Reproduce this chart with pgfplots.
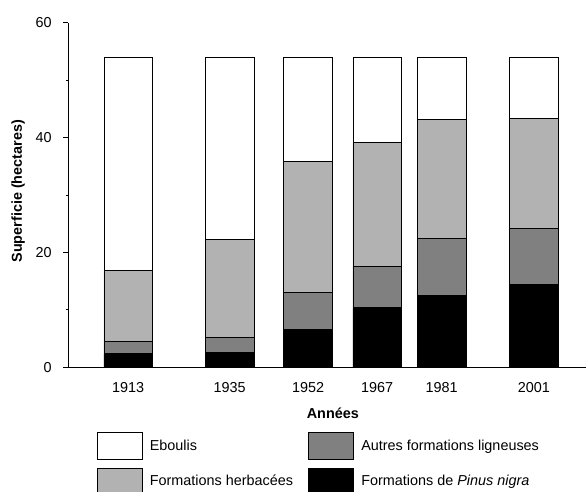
\documentclass[border=0pt]{standalone}
\usepackage{fontspec}
\setmainfont{Liberation Sans}
\usepackage{pgfplots}
\usepackage{pgfplotstable}
\pgfplotsset{compat=1.18}
\definecolor{herb}{gray}{0.70}
\definecolor{lign}{gray}{0.50}

\pgfplotstableread{
year black dark light white
1913 2.4 2.05 12.35 37.2
1935 2.6 2.55 17.15 31.7
1952 6.6 6.5 22.8 18.1
1967 10.4 7.2 21.5 14.9
1981 12.5 10.0 20.7 10.8
2001 14.5 9.7 19.2 10.6
}\data

\begin{document}
\begin{tikzpicture}[font=\fontsize{14.4}{17}\selectfont]
\begin{axis}[
  scale only axis, width=517.7pt, height=344.6pt,
  xmin=1900, xmax=2012.3, ymin=0, ymax=60,
  axis x line*=bottom, axis y line*=left,
  axis line style={black, line width=0.8pt},
  ybar stacked, bar width=48.5pt,
  xtick={1913,1935,1952,1967,1981,2001},
  xticklabels={1913,1935,1952,1967,1981,2001},
  xtick style={draw=none},
  ytick={0,20,40,60}, minor ytick={10,30,50},
  tick align=outside, major tick length=5pt, minor tick length=2.5pt,
  ytick style={black, line width=0.8pt},
  minor tick style={black, line width=0.6pt},
  /pgf/number format/assume math mode=true,
  tick label style={font=\fontsize{14.4}{17}\selectfont},
  xticklabel style={anchor=base, yshift=-20.5pt},
  yticklabel style={anchor=east, inner sep=0pt, xshift=-11.5pt},
  xlabel={\bfseries Années},
  xlabel style={at={([yshift=-50.7pt]axis description cs:0.511,0)}, anchor=base},
  ylabel={\bfseries Superficie (hectares)},
  ylabel style={at={([xshift=-46.3pt,yshift=3.8pt]axis description cs:0,0.5)}, anchor=base, rotate=0},
  legend columns=2,
  legend cell align=left,
  legend image code/.code={\draw[#1] (0pt,-13.5pt) rectangle (45pt,13.5pt);},
  legend style={at={(axis description cs:0,0)}, anchor=north west,
    xshift=28.7pt, yshift=-65pt, draw=none, fill=none, inner sep=0pt, outer sep=0pt,
    row sep=7.4pt, nodes={inner sep=0pt},
    /tikz/every odd column/.append style={column sep=7pt},
    /tikz/every even column/.append style={column sep=15.4pt},
    font=\fontsize{14.4}{17}\selectfont},
]
\addplot[fill=black, draw=black, line width=0.8pt, forget plot] table[x=year, y=black]{\data};
\addplot[fill=lign, draw=black, line width=0.8pt, forget plot] table[x=year, y=dark]{\data};
\addplot[fill=herb, draw=black, line width=0.8pt, forget plot] table[x=year, y=light]{\data};
\addplot[fill=white, draw=black, line width=0.8pt, forget plot] table[x=year, y=white]{\data};
\addlegendimage{fill=white, draw=black, line width=0.8pt}
\addlegendentry{Eboulis}
\addlegendimage{fill=lign, draw=black, line width=0.8pt}
\addlegendentry{Autres formations ligneuses}
\addlegendimage{fill=herb, draw=black, line width=0.8pt}
\addlegendentry{Formations herbacées}
\addlegendimage{fill=black, draw=black, line width=0.8pt}
\addlegendentry{Formations de \textit{Pinus nigra}}
\end{axis}
\pgfresetboundingbox
\path ([xshift=-68.3pt,yshift=-123.7pt]current axis.south west) rectangle ++(586pt,491pt);
\end{tikzpicture}
\end{document}
